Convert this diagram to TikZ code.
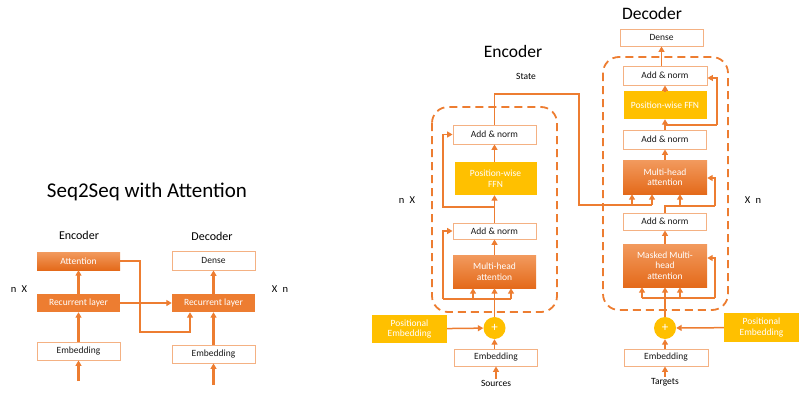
\documentclass[tikz,border=0pt]{standalone}
\usepackage{fontspec}
\setmainfont{Carlito}
\usetikzlibrary{arrows.meta,positioning}
\definecolor{lineorange}{HTML}{ED7D31}
\definecolor{edgeorange}{HTML}{F4B183}
\definecolor{ffnyellow}{HTML}{FFC000}
\definecolor{topfill}{HTML}{F29A5E}
\definecolor{botfill}{HTML}{E46A1A}
\newcommand{\boxfont}{\fontsize{9.5}{10.5}\selectfont}

\begin{document}
\begin{tikzpicture}[x=1pt,y=-1pt,
  every node/.style={font=\boxfont,inner sep=1pt,align=center},
  blk/.style={draw=edgeorange,line width=0.9pt,fill=white,text=black!90,minimum width=83pt},
  hot/.style={top color=topfill,bottom color=botfill,text=white,minimum width=83pt},
  flat/.style={fill=lineorange,text=white,minimum width=83pt},
  ffn/.style={fill=ffnyellow,text=white,minimum width=82pt},
  plus/.style={circle,fill=ffnyellow,text=white,minimum size=22pt,inner sep=0pt,font=\fontsize{13}{14}\selectfont},
  head/.style={font=\fontsize{12}{14}\selectfont},
  bighead/.style={font=\fontsize{17.5}{20}\selectfont},
  rep/.style={font=\fontsize{10.5}{12}\selectfont},
  wire/.style={draw=lineorange,line width=1.5pt},
  lnk/.style={wire,-{Triangle[length=5.5pt,width=6pt]}},
  fat/.style={line width=2.2pt},
  repbox/.style={draw=lineorange,line width=1.8pt,dash pattern=on 8pt off 5pt,rounded corners=16pt}]
  \useasboundingbox (0,0) rectangle (811,404);

  % Seq2Seq with attention
  \node[font=\fontsize{21}{24}\selectfont] (s2s) at (147,192) {Seq2Seq with Attention};
  \node[head] (lenc) at (79,235) {Encoder};
  \node[head] (ldec) at (212,236) {Decoder};
  \node[hot,minimum height=18pt] (att) at (78.5,261) {Attention};
  \node[blk,minimum height=19pt] (ldense) at (213.5,260.5) {Dense};
  \node[flat,minimum height=18pt] (rnnL) at (78.5,303) {Recurrent layer};
  \node[flat,minimum height=18pt] (rnnR) at (213.5,303) {Recurrent layer};
  \node[blk,minimum height=18pt] (embL) at (78.5,351) {Embedding};
  \node[blk,minimum height=18pt] (embR) at (213.5,354) {Embedding};
  \node[rep] (lnx) at (19,289) {n\enspace X};
  \node[rep] (lxn) at (280,289) {X\enspace n};
  \coordinate (inL) at (78.5,381);
  \coordinate (inR) at (213.5,385);
  \coordinate (attc) at (140,332);
  \draw[lnk,fat] (inL) -- (embL);
  \draw[lnk,fat] (embL) -- (rnnL);
  \draw[lnk,fat] (rnnL) -- (att);
  \draw[lnk,fat] (rnnL) -- (rnnR);
  \draw[lnk,fat] (inR) -- (embR);
  \draw[lnk,fat] (embR) -- (rnnR);
  \draw[lnk,fat] (rnnR) -- (ldense);
  \draw[lnk,fat] (att.east) -| (attc) -| ([xshift=-23.5pt]rnnR.south);

  % Transformer encoder
  \node[bighead] (tenc) at (513,51) {Encoder};
  \node (state) at (526,76) {State};
  \draw[repbox] (432,107) rectangle (557,312);
  \node[blk,minimum height=19pt] (encAN2) at (494.5,134.5) {Add \& norm};
  \node[ffn,minimum height=33pt] (encFFN) at (495.5,178.5) {Position-wise\\FFN};
  \node[blk,minimum height=16pt] (encAN1) at (494.5,231) {Add \& norm};
  \node[hot,minimum height=33pt] (encMHA) at (494.5,271.5) {Multi-head\\attention};
  \node[ffn,minimum width=75pt,minimum height=28pt] (encPE) at (409.5,329) {Positional\\Embedding};
  \node[plus] (encPlus) at (494.5,328) {+};
  \node[blk,minimum height=17pt] (encEmb) at (496,357.5) {Embedding};
  \node (src) at (496,383) {Sources};
  \node[rep] (enx) at (407,200) {n\enspace X};
  \coordinate (eb1) at (443,299);
  \coordinate (eb2) at (494.5,207);
  \coordinate (st1) at (579,94);
  \draw[lnk] (src) -- (encEmb);
  \draw[lnk] (encEmb.north -| encPlus) -- (encPlus);
  \draw[lnk] (encPE) -- (encPlus);
  \draw[lnk] (encPlus) -- (encMHA);
  \draw[wire] (eb1) -- (511,299);
  \foreach \xx in {473,511} \draw[lnk] (\xx,299) -- (encMHA.south -| \xx,0);
  \draw[lnk] (eb1) |- (encAN1.west);
  \draw[lnk] (encMHA) -- (encAN1);
  \draw[lnk] (encAN1) -- (encFFN.south -| encAN1);
  \draw[lnk] (eb2) -- (eb2 -| eb1) |- (encAN2.west);
  \draw[lnk] (encFFN.north -| encAN2) -- (encAN2);

  % Transformer decoder
  \node[bighead] (tdec) at (652,13) {Decoder};
  \node[blk,minimum height=17pt] (decDense) at (661.5,37.5) {Dense};
  \draw[repbox] (603,57) rectangle (728,310);
  \node[blk,minimum width=84pt,minimum height=19pt] (decAN3) at (665,75.5) {Add \& norm};
  \node[ffn,minimum width=83pt,minimum height=28pt] (decFFN) at (665,105) {Position-wise FFN};
  \node[blk,minimum height=19pt] (decAN2) at (665,139.5) {Add \& norm};
  \node[hot,minimum width=84pt,minimum height=34pt] (decMHA) at (665,177) {Multi-head\\attention};
  \node[blk,minimum height=17pt] (decAN1) at (665,221.5) {Add \& norm};
  \node[hot,minimum width=84pt,minimum height=43pt] (decMMHA) at (665,265.5) {Masked Multi-\\head\\attention};
  \node[plus] (decPlus) at (665,328) {+};
  \node[ffn,minimum width=75pt,minimum height=29pt] (decPE) at (761.5,327.5) {Positional\\Embedding};
  \node[blk,minimum width=84pt,minimum height=17pt] (decEmb) at (666,357.5) {Embedding};
  \node (tgt) at (665,382) {Targets};
  \node[rep] (dxn) at (753,200) {X\enspace n};
  \coordinate (db1) at (715,298);
  \coordinate (db2) at (715,206);
  \coordinate (db3) at (717,125);
  % encoder state into decoder
  \draw[wire] (encAN2.north) |- (st1) |- (652,205);
  \foreach \xx in {632,652} \draw[lnk] (\xx,205) -- (decMHA.south -| \xx,0);
  \draw[lnk] (tgt) -- (tgt |- decEmb.south);
  \draw[lnk] (decEmb.north -| decPlus) -- (decPlus);
  \draw[lnk] (decPE) -- (decPlus);
  \draw[lnk] (decPlus) -- (decMMHA);
  \draw[wire] (642,298) -- (db1);
  \foreach \xx in {642,680} \draw[lnk] (\xx,298) -- (decMMHA.south -| \xx,0);
  \draw[lnk] (db1) |- ([yshift=7.5pt]decMMHA.east);
  \draw[lnk] (decMMHA) -- (decAN1);
  \draw[wire] (decAN1.north) |- (db2);
  \draw[lnk] (db2) |- ([yshift=-1pt]decMHA.east);
  \draw[lnk] (680,206) -- (decMHA.south -| 680,0);
  \draw[lnk] (decMHA) -- (decAN2);
  \draw[lnk] (decAN2) -- (decFFN);
  \draw[wire] (db3 -| decAN2) -- (db3);
  \draw[lnk] (db3) |- ([yshift=-2.5pt]decAN3.east);
  \draw[lnk] (decFFN) -- (decAN3);
  \draw[lnk] (decAN3.north -| decDense) -- (decDense);
\end{tikzpicture}
\end{document}
